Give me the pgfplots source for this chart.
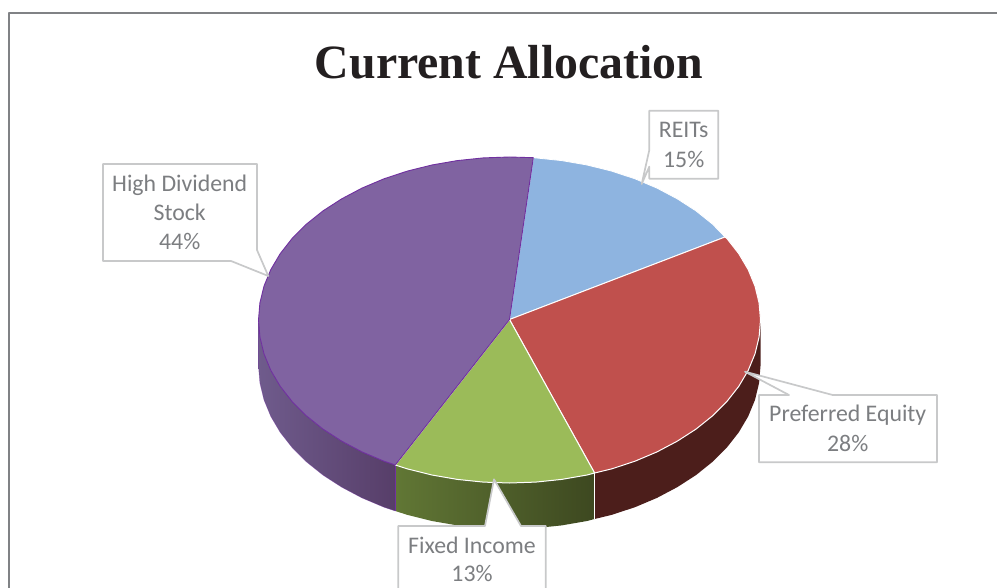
\documentclass[border=0pt]{standalone}
\usepackage{pgfplots}
\pgfplotsset{compat=1.18}
\usepackage{fontspec}
\setmainfont{Carlito}
\newfontfamily\titlefont{Liberation Serif}
\definecolor{cPurple}{HTML}{8063A1}
\definecolor{cPurpleEdge}{HTML}{7030A0}
\definecolor{cBlue}{HTML}{8EB4E0}
\definecolor{cRed}{HTML}{C0504D}
\definecolor{cGreen}{HTML}{9BBB59}
\definecolor{wRed}{HTML}{4C1E1B}
\definecolor{lab}{HTML}{7C7E81}
\definecolor{box}{HTML}{C8C9CA}
\definecolor{frame}{HTML}{808285}
\definecolor{ttl}{HTML}{231F20}
\definecolor{HTMLgreenL}{HTML}{617735}
\definecolor{HTMLgreenM}{HTML}{414E22}
\definecolor{HTMLgreenR}{HTML}{3D4820}
\definecolor{HTMLpurL}{HTML}{6F5B8C}
\definecolor{HTMLpurM}{HTML}{644C7C}
\definecolor{HTMLpurR}{HTML}{573E69}
\begin{document}
\begin{tikzpicture}
\useasboundingbox (0,0) rectangle (997pt,588pt);
\begin{axis}[
  at={(0,0)}, anchor=south west,
  scale only axis, width=997pt, height=588pt,
  xmin=0, xmax=997, ymin=0, ymax=588, y dir=reverse,
  hide axis, clip=true,
  every axis plot/.append style={mark=none, line join=round},
]
% frame
\addplot[frame, line width=1.8pt] coordinates {(9,600) (9,13) (1010,13)};
% side walls
\addplot[draw=none, fill=wRed] coordinates {
(760.5,320)(759.1,337.0)(755.0,353.9)(748.2,370.4)(738.8,386.3)(726.9,401.5)(712.6,415.8)(696.0,429.1)(677.4,441.1)(657.0,451.9)(635.0,461.2)(611.6,468.9)(594.6,473)
(594.6,519)(611.6,514.9)(635.0,507.2)(657.0,497.9)(677.4,487.1)(696.0,475.1)(712.6,461.8)(726.9,447.5)(738.8,432.3)(748.2,416.4)(755.0,399.9)(759.1,383.0)(760.5,366)} -- cycle;
\addplot[draw=none, left color=HTMLgreenL, middle color=HTMLgreenM, right color=HTMLgreenR] coordinates {
(594.6,473)(587.1,475.0)(561.7,479.4)(535.7,482.1)(509.5,483)(483.3,482.1)(457.3,479.4)(431.9,475.0)(407.4,468.9)(395.3,465)
(395.3,511)(407.4,514.9)(431.9,521)(457.3,525.4)(483.3,528.1)(509.5,529)(535.7,528.1)(561.7,525.4)(587.1,521)(594.6,519)} -- cycle;
\addplot[draw=none, left color=HTMLpurL, middle color=HTMLpurM, right color=HTMLpurR] coordinates {
(395.3,465)(384.0,461.2)(362.0,451.9)(341.6,441.1)(323.0,429.1)(306.4,415.8)(292.1,401.5)(280.2,386.3)(270.8,370.4)(264.0,353.9)(259.9,337.0)(258.5,320)
(258.5,366)(259.9,383.0)(264.0,399.9)(270.8,416.4)(280.2,432.3)(292.1,447.5)(306.4,461.8)(323.0,475.1)(341.6,487.1)(362.0,497.9)(384.0,507.2)(395.3,511)} -- cycle;
\addplot[white, line width=0.8pt] coordinates {(594.6,473)(594.6,519)};
\addplot[cPurpleEdge, line width=0.8pt] coordinates {(395.3,465)(395.3,511)};
% top: REITs
\addplot[draw=white, line width=0.8pt, fill=cBlue] coordinates {
(509.5,319.5)(533.3,157.7)(535.7,157.9)(561.7,160.6)(587.1,165.0)(611.6,171.1)(635.0,178.8)(657.0,188.1)(677.4,198.9)(696.0,210.9)(712.6,224.2)(725,237)} -- cycle;
% top: Preferred Equity
\addplot[draw=white, line width=1pt, fill=cRed] coordinates {
(509.5,319.5)(725,237)(726.9,238.5)(738.8,253.7)(748.2,269.6)(755.0,286.1)(759.1,303.0)(760.5,320)(759.1,337.0)(755.0,353.9)(748.2,370.4)(738.8,386.3)(726.9,401.5)(712.6,415.8)(696.0,429.1)(677.4,441.1)(657.0,451.9)(635.0,461.2)(611.6,468.9)(594.6,473)} -- cycle;
% top: Fixed Income
\addplot[draw=white, line width=1pt, fill=cGreen] coordinates {
(509.5,319.5)(594.6,473)(587.1,475.0)(561.7,479.4)(535.7,482.1)(509.5,483)(483.3,482.1)(457.3,479.4)(431.9,475.0)(407.4,468.9)(395.3,465)} -- cycle;
% top: High Dividend Stock
\addplot[draw=cPurpleEdge, line width=0.9pt, fill=cPurple] coordinates {
(509.5,319.5)(395.3,465)(384.0,461.2)(362.0,451.9)(341.6,441.1)(323.0,429.1)(306.4,415.8)(292.1,401.5)(280.2,386.3)(270.8,370.4)(264.0,353.9)(259.9,337.0)(258.5,320)(259.9,303.0)(264.0,286.1)(270.8,269.6)(280.2,253.7)(292.1,238.5)(306.4,224.2)(323.0,210.9)(341.6,198.9)(362.0,188.1)(384.0,178.8)(407.4,171.1)(431.9,165.0)(457.3,160.6)(483.3,157.9)(509.5,157)(533.3,157.7)} -- cycle;
% wall outline under purple
\addplot[cPurpleEdge, line width=0.5pt, opacity=0.5] coordinates {(258.5,320)(258.5,366)(259.9,383.0)(264.0,399.9)(270.8,416.4)(280.2,432.3)(292.1,447.5)(306.4,461.8)(323.0,475.1)(341.6,487.1)(362.0,497.9)(384.0,507.2)(395.3,511)};
% callouts
\addplot[draw=box, line width=1.7pt, fill=white] coordinates {(103,164)(257,164)(257,250)(268.3,276)(231,261)(193.3,261)(103,261)} -- cycle;
\addplot[draw=box, line width=1.7pt, fill=white] coordinates {(649.3,110.7)(718.3,110.7)(718.3,178.7)(649.3,178.7)(649.3,166.7)(641.7,184)(649.3,150)} -- cycle;
\addplot[draw=box, line width=1.7pt, fill=white] coordinates {(759,395)(789,395)(745,371.7)(832.7,395)(937,395)(937,462.3)(759,462.3)} -- cycle;
\addplot[draw=box, line width=1.7pt, fill=white] coordinates {(398.3,610)(398.3,526)(485,526)(494,479.3)(521,526)(545.7,526)(545.7,610)} -- cycle;
% text
\node[anchor=base, text=ttl, font=\titlefont\bfseries\fontsize{47.8}{58}\selectfont] at (axis cs:509,78.3) {Current Allocation};
\def\lf{\fontsize{23.8}{28}\selectfont}
\node[anchor=base, text=lab, font=\lf] at (axis cs:179.7,191.7) {High Dividend};
\node[anchor=base, text=lab, font=\lf] at (axis cs:179.7,220.7) {Stock};
\node[anchor=base, text=lab, font=\lf] at (axis cs:179.7,250) {44\%};
\node[anchor=base, text=lab, font=\lf] at (axis cs:683.7,137.7) {REITs};
\node[anchor=base, text=lab, font=\lf] at (axis cs:683.7,167.7) {15\%};
\node[anchor=base, text=lab, font=\lf] at (axis cs:847.7,421.7) {Preferred Equity};
\node[anchor=base, text=lab, font=\lf] at (axis cs:847.7,451.7) {28\%};
\node[anchor=base, text=lab, font=\lf] at (axis cs:472,553) {Fixed Income};
\node[anchor=base, text=lab, font=\lf] at (axis cs:472,581.7) {13\%};
\end{axis}
\end{tikzpicture}
\end{document}
